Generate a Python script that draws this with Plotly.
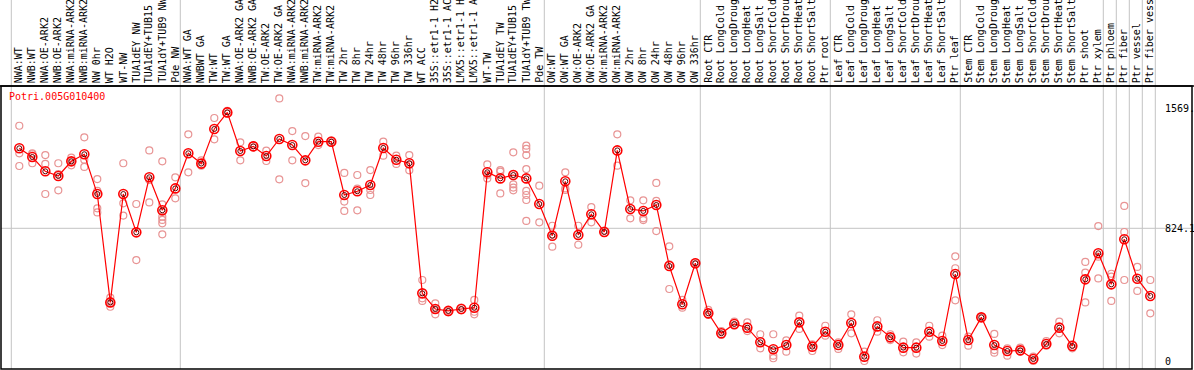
import plotly.graph_objects as go

categories = [
    "NWA:WT", "NWB:WT", "NWA:OE-ARK2", "NWB:OE-ARK2", "NWA:miRNA-ARK2", "NWB:miRNA-ARK2",
    "NW 0hr", "WT H2O", "WT-NW", "TUA1dEY NW", "TUA1dEY+TUB15", "TUA1dY+TUB9 NW", "Pde NW",
    "NWA:WT GA", "NWBWT GA", "TW:WT", "TW:WT GA", "NWA:OE-ARK2 GA", "NWB:OE-ARK2 GA",
    "TW:OE-ARK2", "TW:OE-ARK2 GA", "NWA:miRNA-ARK2", "NWB:miRNA-ARK2", "TW:miRNA-ARK2",
    "TW:miRNA-ARK2", "TW 2hr", "TW 8hr", "TW 24hr", "TW 48hr", "TW 96hr", "TW 336hr",
    "WT ACC", "35S::etr1-1 H2", "35S::etr1-1 AC", "LMX5::etr1-1 H", "LMX5::etr1-1 A",
    "WT-TW", "TUA1dEY TW", "TUA1dEY+TUB15", "TUA1dY+TUB9 TW", "Pde TW",
    "OW:WT", "OW:WT GA", "OW:OE-ARK2", "OW:OE-ARK2 GA", "OW:miRNA-ARK2", "OW:miRNA-ARK2",
    "OW 2hr", "OW 8hr", "OW 24hr", "OW 48hr", "OW 96hr", "OW 336hr",
    "Root CTR", "Root LongCold", "Root LongDroug", "Root LongHeat", "Root LongSalt",
    "Root ShortCold", "Root ShortDrou", "Root ShortHeat", "Root ShortSalt", "Ptr root",
    "Leaf CTR", "Leaf LongCold", "Leaf LongDroug", "Leaf LongHeat", "Leaf LongSalt",
    "Leaf ShortCold", "Leaf ShortDrou", "Leaf ShortHeat", "Leaf ShortSalt", "Ptr leaf",
    "Stem CTR", "Stem LongCold", "Stem LongDroug", "Stem LongHeat", "Stem LongSalt",
    "Stem ShortCold", "Stem ShortDrou", "Stem ShortHeat", "Stem ShortSalt", "Ptr shoot",
    "Ptr xylem", "Ptr phloem", "Ptr fiber", "Ptr vessel", "Ptr fiber vess",
]

mean_values = [
    1321, 1267, 1178, 1149, 1240, 1284, 1037, 364, 1037, 799, 1141, 936, 1072,
    1290, 1226, 1441, 1544, 1304, 1333, 1273, 1379, 1341, 1246, 1362, 1362, 1031, 1054,
    1093, 1323, 1250, 1228, 420, 323, 311, 323, 331, 1172, 1134, 1155, 1134, 975,
    778, 1116, 783, 911, 801, 1308, 944, 932, 969, 590, 352, 607,
    296, 172, 230, 207, 116, 73, 99, 240, 89, 182,
    99, 236, 27, 215, 147, 83, 83, 182, 124, 540,
    130, 271, 99, 62, 66, 12, 106, 207, 93, 507, 669,
    476, 756, 511, 404,
]

replicate_values = [
    [1461, 1290, 1211], [1290, 1284, 1228], [1279, 1224, 1037], [1228, 1160, 1060],
    [1263, 1240, 1215], [1389, 1250, 1205], [1130, 1056, 948, 923], [393, 364, 337],
    [1228, 979, 903], [975, 627], [1308, 1124, 985],
    [1240, 973, 927, 896, 876, 855, 787], [1141, 1010],
    [1408, 1172], [1246, 1218, 1213], [1509, 1377], [1553, 1536], [1358, 1246],
    [1340, 1326], [1306, 1242], [1631, 1128], [1428, 1246], [1397, 1105],
    [1393, 1341], [1370, 1358], [1168, 990, 932], [1155, 1070, 936],
    [1186, 1062, 1031], [1362, 1275], [1275, 1224], [1279, 1220, 1184],
    [503, 389, 373], [358, 320, 290], [315, 302], [331, 315], [379, 306, 290],
    [1221, 1155, 1134], [1186, 1176, 1041], [1296, 1160, 1097, 1077, 1060],
    [1337, 1317, 1279, 1192, 1056, 1031, 1000, 870], [1089, 861],
    [840, 785, 710], [1172, 1072, 1062], [840, 722], [956, 861], [810, 795],
    [1408, 1213], [998, 886], [998, 886, 875], [1106, 994, 807], [712, 600, 447],
    [379, 331], [613, 600],
    [317, 286], [186, 162], [244, 219], [240, 186], [166, 79], [166, 33, 17],
    [128, 58], [282, 199], [104, 62], [219, 157],
    [116, 75], [290, 172], [58, 0], [253, 182], [166, 130], [120, 54], [116, 46],
    [219, 151], [157, 99], [650, 576, 377],
    [151, 95], [271], [168, 68, 52], [79, 33], [83, 58], [27, 0], [124, 95],
    [244, 172], [104, 79], [615, 549, 364], [838, 648, 513],
    [542, 524, 373], [963, 801, 503], [584, 435], [503, 296],
]

group_starts = [0, 13, 41, 53, 63, 73, 84, 85, 86, 87, 88]
gene_name = "Potri.005G010400"
tick_values = [1569, 824.1, 0]
tick_texts = ["1569.", "824.1", "0"]

FONT = "DejaVu Sans Mono"
RED = "#ff0000"
PINK = "#e89494"
GRID = "#c4c4c4"

W, H = 1194, 370
L, R, T, B = 1, 2, 86, 1
plot_w = W - L - R
plot_h = H - T - B
step = 13.0
first_px = 19.3
x0 = -(first_px - L) / step
x1 = x0 + plot_w / step
y_scale = 0.16102
zero_px = 361
y1 = (zero_px - T) / y_scale
y0 = y1 - plot_h / y_scale

idx = list(range(len(categories)))
rep_x, rep_y = [], []
for i, reps in enumerate(replicate_values):
    for v in reps:
        rep_x.append(i)
        rep_y.append(v)

fig = go.Figure()
fig.add_trace(go.Scatter(
    x=rep_x, y=rep_y, mode="markers",
    marker=dict(symbol="circle-open", size=7, color=PINK, line=dict(width=1.2, color=PINK)),
    hoverinfo="skip", showlegend=False, cliponaxis=False,
))
fig.add_trace(go.Scatter(
    x=idx, y=mean_values, mode="lines",
    line=dict(color=RED, width=1.2), showlegend=False, hoverinfo="skip",
))
fig.add_trace(go.Scatter(
    x=idx, y=mean_values, mode="markers",
    marker=dict(symbol="circle-open", size=5, color="#600000", line=dict(width=1, color="#600000")),
    showlegend=False, hoverinfo="skip", cliponaxis=False,
))
fig.add_trace(go.Scatter(
    x=idx, y=mean_values, mode="markers",
    marker=dict(symbol="circle-open", size=9, color=RED, line=dict(width=1.6, color=RED)),
    showlegend=False, hoverinfo="skip", cliponaxis=False,
))

shapes = []
top_paper = 1 + T / plot_h
for g in group_starts:
    gx = g - 8.0 / step
    shapes.append(dict(type="line", xref="x", yref="paper", x0=gx, x1=gx, y0=0, y1=top_paper,
                       line=dict(color=GRID, width=1), layer="below"))
shapes.append(dict(type="line", xref="paper", yref="y", x0=0, x1=1, y0=tick_values[1], y1=tick_values[1],
                   line=dict(color=GRID, width=1), layer="below"))
shapes.append(dict(type="rect", xref="paper", yref="paper", x0=0, x1=1, y0=0, y1=1,
                   line=dict(color="black", width=1.5)))
shapes.append(dict(type="line", xref="paper", yref="paper", x0=-L / plot_w, x1=(W - L) / plot_w,
                   y0=1, y1=1, line=dict(color="black", width=1.5)))

annotations = []
for i, c in enumerate(categories):
    annotations.append(dict(
        x=i, y=1 + 2.0 / plot_h, xref="x", yref="paper", text=c, showarrow=False,
        textangle=-90, xanchor="center", yanchor="bottom",
        font=dict(family=FONT, size=10, color="black"), borderpad=0,
    ))
for v, t in zip(tick_values, tick_texts):
    annotations.append(dict(
        x=(1164 - L) / plot_w, y=v, xref="paper", yref="y", text=t, showarrow=False,
        xanchor="left", yanchor="middle", font=dict(family=FONT, size=10, color="black"), borderpad=0,
    ))
annotations.append(dict(
    x=(8 - L) / plot_w, y=1 - 4.0 / plot_h, xref="paper", yref="paper", text=gene_name,
    showarrow=False, xanchor="left", yanchor="top",
    font=dict(family=FONT, size=10, color=RED), borderpad=0,
))

fig.update_layout(
    width=W, height=H, margin=dict(l=L, r=R, t=T, b=B),
    paper_bgcolor="white", plot_bgcolor="white",
    xaxis=dict(range=[x0, x1], showgrid=False, zeroline=False, showticklabels=False, ticks=""),
    yaxis=dict(range=[y0, y1], showgrid=False, zeroline=False, showticklabels=False, ticks=""),
    shapes=shapes, annotations=annotations, showlegend=False,
)
fig.write_html(
    "out.html",
    config={"displayModeBar": False},
    post_script="document.body.style.margin='0';document.body.style.overflow='hidden';",
)
